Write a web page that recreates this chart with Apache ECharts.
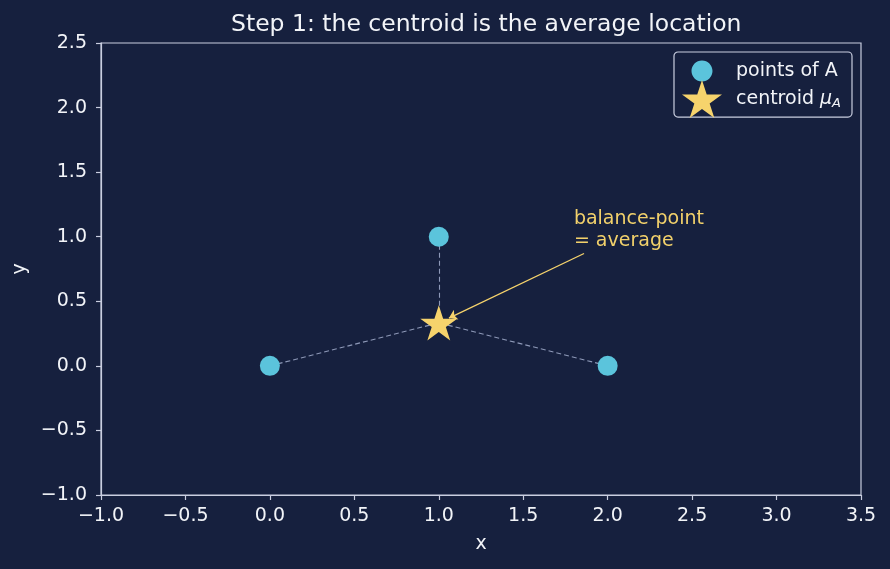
<!DOCTYPE html>
<html>
<head>
<meta charset="utf-8">
<script src="https://cdn.jsdelivr.net/npm/echarts@6/dist/echarts.min.js"></script>
<style>
html,body{margin:0;padding:0;background:#16203e;}
#chart{width:890px;height:569px;}
</style>
</head>
<body>
<div id="chart"></div>
<script>
// ---- data ----
const titleText = 'Step 1: the centroid is the average location';
const pointsX = [0, 1, 2];
const pointsY = [0, 1, 0];
const centroidXY = [1, 0.3333];
const xTicks = [-1.0, -0.5, 0.0, 0.5, 1.0, 1.5, 2.0, 2.5, 3.0, 3.5];
const yTicks = [-1.0, -0.5, 0.0, 0.5, 1.0, 1.5, 2.0, 2.5];
const arrowFrom = [1.86, 0.87];
const arrowTo = [1.06, 0.37];
const noteAt = [1.8, 0.885];
const noteText = 'balance-point\n= average';
const pointsName = 'points of A';
const centroidName = 'centroid';

// ---- styles ----
const BG = '#16203e';
const FG = '#f2f4f8';
const SPINE = '#c9cee0';
const PT = '#5bc4dc';
const STAR = '#f6d36c';
const NOTE = '#f2d16b';
const FONT = 'DejaVu Sans';
const FS = 19;
const starPath = 'path://M100,0 L122.45,69.1 L195.11,69.1 L136.33,111.8 L158.78,180.9 L100,138.2 L41.22,180.9 L63.67,111.8 L4.89,69.1 L77.55,69.1 Z';
// circle of radius 10.5 inside a 40x40 box (corner points are zero-area)
const legendCircle = 'path://M0,0 L0.01,0 L0,0.01 Z M40,40 L39.99,40 L40,39.99 Z M20,9.5 C25.8,9.5 30.5,14.2 30.5,20 C30.5,25.8 25.8,30.5 20,30.5 C14.2,30.5 9.5,25.8 9.5,20 C9.5,14.2 14.2,9.5 20,9.5 Z';

const fmt = v => (v < 0 ? '\u2212' : '') + Math.abs(v).toFixed(1);

const ptsData = pointsX.map((x, i) => [x, pointsY[i]]);
const dashData = ptsData.map(p => ({coords: [p, centroidXY]}));

const chart = echarts.init(document.getElementById('chart'));
chart.setOption({
  backgroundColor: BG,
  animation: false,
  textStyle: {fontFamily: FONT},
  title: {
    text: titleText, left: 226, top: 8,
    textStyle: {color: FG, fontSize: 23.5, fontWeight: 'normal', fontFamily: FONT}
  },
  grid: {left: 101, right: 29, top: 43, bottom: 74, show: true, borderColor: SPINE, borderWidth: 1.2, backgroundColor: 'transparent'},
  legend: {
    data: [
      {name: pointsName, icon: legendCircle},
      {name: centroidName, icon: starPath}
    ],
    orient: 'vertical', right: 38, top: 52,
    itemWidth: 40, itemHeight: 40, itemGap: -11,
    padding: [-1, 11, -1, 8],
    backgroundColor: BG, borderColor: SPINE, borderWidth: 1.2, borderRadius: 4,
    formatter: n => n === centroidName ? 'centroid {mu|\u03bc}{sub|A}' : n,
    textStyle: {
      color: FG, fontSize: FS, fontFamily: FONT, padding: [0, 0, 0, 9],
      rich: {
        mu: {fontSize: FS, fontStyle: 'italic', color: FG, fontFamily: FONT},
        sub: {fontSize: 13, fontStyle: 'italic', color: FG, fontFamily: FONT, padding: [9, 0, 0, 0]}
      }
    }
  },
  xAxis: {
    type: 'value', min: -1, max: 3.5, interval: 0.5,
    name: 'x', nameLocation: 'middle', nameGap: 40,
    nameTextStyle: {color: FG, fontSize: FS, fontFamily: FONT},
    axisLine: {show: true, onZero: false, lineStyle: {color: SPINE, width: 1.2}},
    axisTick: {show: true, length: 5, lineStyle: {color: SPINE, width: 1.2}},
    axisLabel: {color: FG, fontSize: FS, fontFamily: FONT, margin: 12, formatter: fmt,
      customValues: xTicks},
    splitLine: {show: false}
  },
  yAxis: {
    type: 'value', min: -1, max: 2.5, interval: 0.5,
    name: 'y', nameLocation: 'middle', nameGap: 70,
    nameTextStyle: {color: FG, fontSize: FS, fontFamily: FONT},
    axisLine: {show: true, onZero: false, lineStyle: {color: SPINE, width: 1.2}},
    axisTick: {show: true, length: 5, lineStyle: {color: SPINE, width: 1.2}},
    axisLabel: {color: FG, fontSize: FS, fontFamily: FONT, margin: 14, formatter: fmt,
      customValues: yTicks},
    splitLine: {show: false}
  },
  series: [
    {
      type: 'lines', coordinateSystem: 'cartesian2d', silent: true, z: 1,
      data: dashData, symbol: 'none',
      lineStyle: {color: '#8e99b8', width: 1.1, type: [5, 3], opacity: 1}
    },
    {
      name: pointsName, type: 'scatter', data: ptsData, z: 3,
      symbol: 'circle', symbolSize: 20,
      itemStyle: {color: PT, opacity: 1}
    },
    {
      name: centroidName, type: 'scatter', data: [centroidXY], z: 4,
      symbol: starPath, symbolSize: 37, symbolKeepAspect: true,
      itemStyle: {color: STAR, opacity: 1}
    },
    {
      type: 'lines', coordinateSystem: 'cartesian2d', silent: true, z: 5,
      data: [{coords: [arrowFrom, arrowTo]}],
      symbol: ['none', 'arrow'], symbolSize: [0, 8],
      lineStyle: {color: STAR, width: 1.3, opacity: 1}
    },
    {
      type: 'scatter', data: [noteAt], symbolSize: 0, silent: true, z: 6,
      itemStyle: {opacity: 1, color: NOTE},
      label: {
        show: true, position: [0, 0], align: 'left', verticalAlign: 'bottom',
        formatter: noteText, color: NOTE, opacity: 1, fontSize: FS, lineHeight: 22, fontFamily: FONT
      }
    }
  ]
});
</script>
</body>
</html>
